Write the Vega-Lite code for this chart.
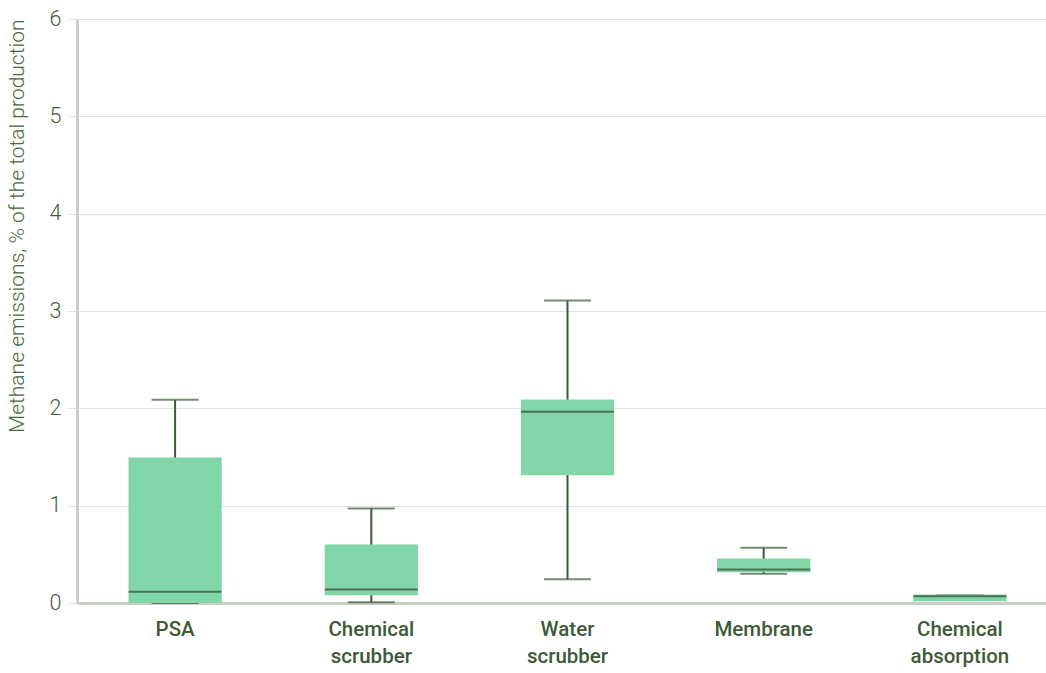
{
  "$schema": "https://vega.github.io/schema/vega-lite/v6.json",
  "autosize": "none",
  "width": 981,
  "height": 584,
  "padding": {"left": 77, "top": 19, "right": 0, "bottom": 70},
  "background": "white",
  "config": {
    "font": "Roboto",
    "view": {"stroke": null}
  },
  "data": {
    "values": [
      {"tech": "PSA", "min": 0, "q1": 0, "median": 0.115, "q3": 1.495, "max": 2.088},
      {"tech": "Chemical scrubber", "min": 0.008, "q1": 0.08, "median": 0.139, "q3": 0.601, "max": 0.971},
      {"tech": "Water scrubber", "min": 0.245, "q1": 1.313, "median": 1.965, "q3": 2.09, "max": 3.109},
      {"tech": "Membrane", "min": 0.3, "q1": 0.317, "median": 0.344, "q3": 0.457, "max": 0.567},
      {"tech": "Chemical absorption", "min": 0.03, "q1": 0.018, "median": 0.07, "q3": 0.087, "max": 0.08}
    ]
  },
  "encoding": {
    "x": {
      "field": "tech",
      "type": "nominal",
      "sort": null,
      "scale": {"paddingInner": 0, "paddingOuter": 0},
      "axis": {
        "title": null,
        "labelAngle": 0,
        "labelFont": "Roboto",
        "labelFontWeight": 500,
        "labelFontSize": 20.5,
        "labelColor": "#3d5a36",
        "labelExpr": "split(datum.label, ' ')",
        "labelLineHeight": 27,
        "labelPadding": 16,
        "ticks": false,
        "domainColor": "#c8cfc4",
        "domainWidth": 3
      }
    }
  },
  "layer": [
    {
      "mark": {"type": "rule", "color": "#3b5a3a", "strokeWidth": 2},
      "encoding": {
        "y": {
          "field": "min",
          "type": "quantitative",
          "scale": {"domain": [0, 6], "nice": false},
          "axis": {
            "title": "Methane emissions, % of the total production",
            "titleFont": "Roboto",
            "titleFontWeight": 300,
            "titleFontSize": 21,
            "titleColor": "#46693f",
            "titleAnchor": "end",
            "titlePadding": 22,
            "tickCount": 6,
            "labelFont": "Roboto",
            "labelFontWeight": 300,
            "labelFontSize": 21.5,
            "labelColor": "#3f5c3b",
            "labelPadding": 7,
            "tickColor": "#dcdcdc",
            "tickSize": 9,
            "gridColor": "#e2e2e2",
            "domainColor": "#c8cfc4",
            "domainWidth": 3
          }
        },
        "y2": {"field": "max"}
      }
    },
    {
      "mark": {"type": "tick", "color": "#3b5a3a", "thickness": 2, "size": 47},
      "encoding": {"y": {"field": "min", "type": "quantitative"}}
    },
    {
      "mark": {"type": "tick", "color": "#3b5a3a", "thickness": 2, "size": 47},
      "encoding": {"y": {"field": "max", "type": "quantitative"}}
    },
    {
      "mark": {"type": "bar", "color": "#81d6a7", "width": {"band": 0.475}},
      "encoding": {
        "y": {"field": "q1", "type": "quantitative"},
        "y2": {"field": "q3"}
      }
    },
    {
      "mark": {"type": "tick", "color": "#2f4a30", "thickness": 2, "size": 93},
      "encoding": {"y": {"field": "median", "type": "quantitative"}}
    }
  ]
}
